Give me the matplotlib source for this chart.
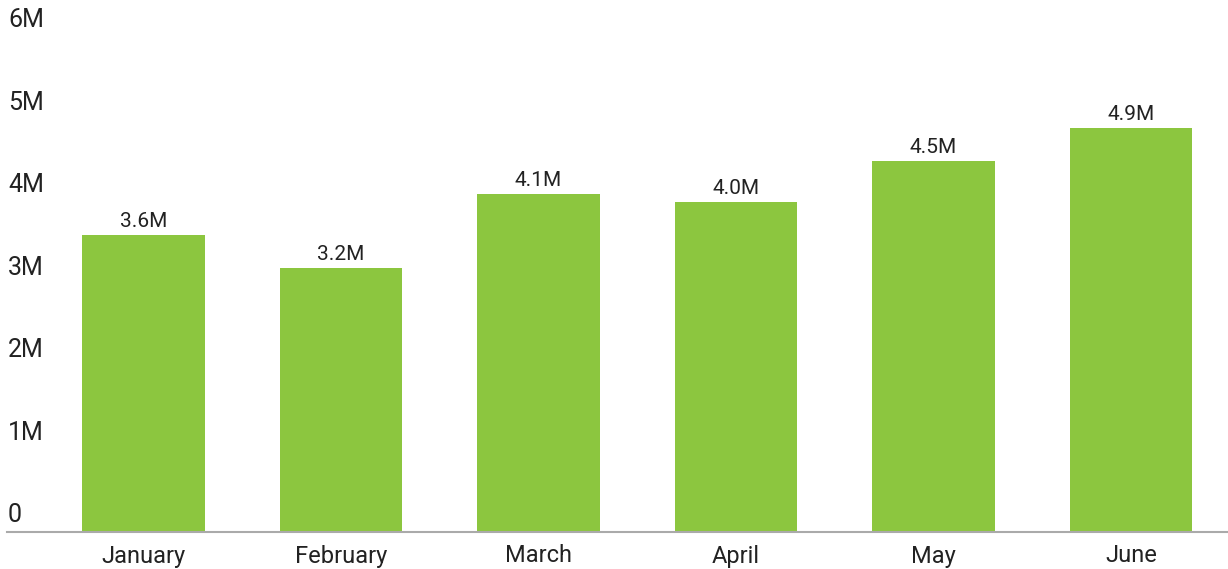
import matplotlib
matplotlib.use('Agg')
import matplotlib.pyplot as plt
import matplotlib.transforms as mtransforms

months = ['January', 'February', 'March', 'April', 'May', 'June']
values = [3.6, 3.2, 4.1, 4.0, 4.5, 4.9]   # millions
yticks = [0, 1, 2, 3, 4, 5, 6]
ytick_labels = ['0', '1M', '2M', '3M', '4M', '5M', '6M']

plt.rcParams['font.family'] = ['Roboto', 'DejaVu Sans']

fig = plt.figure(figsize=(12.28, 5.69), dpi=100)
ax = fig.add_axes([7 / 1228, 37 / 569, 1 - 7 / 1228, (532 - 37) / 569])

x = list(range(len(months)))
ax.bar(x, values, width=0.62, color='#8cc63f', zorder=2)
for xi, v in zip(x, values):
    ax.text(xi, v + 0.05, f'{v:.1f}M', ha='center', va='bottom',
            fontsize=15, color='#222222')

ax.set_xlim(-0.69, 5.49)
ax.set_ylim(0, 6)

# y labels sit above their (invisible) grid lines, at the left edge
trans = mtransforms.blended_transform_factory(fig.transFigure, ax.transData)
for t, lab in zip(yticks, ytick_labels):
    ax.text(8 / 1228, t + 0.06, lab, transform=trans, ha='left', va='bottom',
            fontsize=18, color='#222222')
ax.set_yticks([])

ax.set_xticks(x)
ax.set_xticklabels(months, fontsize=17, color='#222222')
ax.tick_params(axis='x', length=0, pad=9)

for s in ['top', 'right', 'left']:
    ax.spines[s].set_visible(False)
ax.spines['bottom'].set_color('#aaaaaa')
ax.spines['bottom'].set_linewidth(1.5)

fig.savefig('out.png', dpi=100)
